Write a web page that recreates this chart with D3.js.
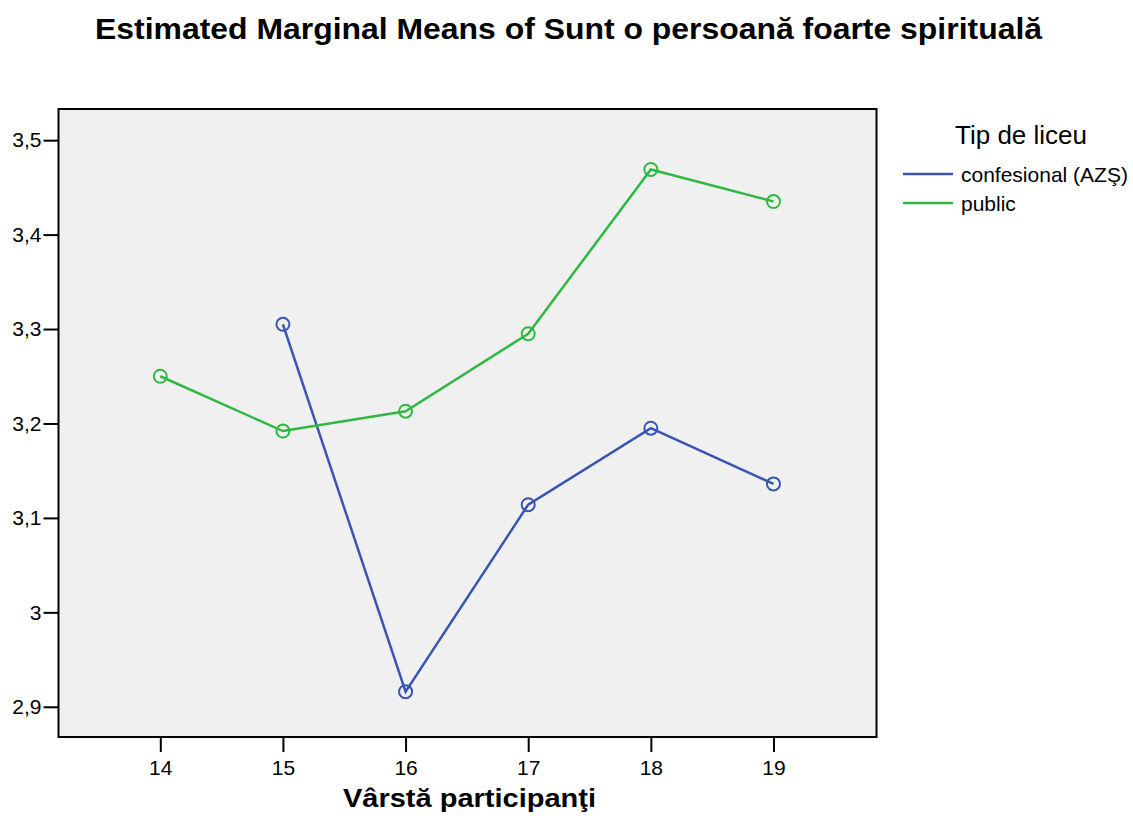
<!doctype html>
<html>
  <head>
    <meta charset="utf-8">
    <script src="https://cdn.jsdelivr.net/npm/d3@7"></script>
    <style>
      body { margin: 0; background: #ffffff; }
      svg { font-family: "Liberation Sans", Arial, sans-serif; }
    </style>
  </head>
  <body>
    <svg id="chart" width="1133" height="820"></svg>
    <script>
      // date
      var ages = [14, 15, 16, 17, 18, 19];
      var yTicks = [2.9, 3.0, 3.1, 3.2, 3.3, 3.4, 3.5];
      var seriesNames = ["confesional (AZŞ)", "public"];
      var seriesColors = ["#3a54b4", "#2fb942"];
      var confesional = [null, 3.305, 2.916, 3.114, 3.195, 3.136];
      var publicVals = [3.250, 3.192, 3.213, 3.295, 3.469, 3.435];

      var svg = d3.select("#chart");
      var plotL = 58.5, plotR = 876.5, plotT = 109, plotB = 737;

      var x = d3.scaleLinear().domain([13.17, 19.84]).range([plotL, plotR]);
      var y = d3.scaleLinear().domain([2.868, 3.533]).range([plotB, plotT]);

      // fundal zona de desen
      svg.append("rect")
        .attr("x", plotL).attr("y", plotT)
        .attr("width", plotR - plotL).attr("height", plotB - plotT)
        .attr("fill", "#f0f0f0")
        .attr("stroke", "#000").attr("stroke-width", 2);

      // axe
      var yAxis = d3.axisLeft(y).tickValues(yTicks).tickSize(15).tickPadding(2)
        .tickFormat(function(d){ return d3.format("~g")(d).replace(".", ","); });
      var gy = svg.append("g").attr("transform", "translate(" + plotL + ",0)").call(yAxis);
      gy.select(".domain").remove();
      gy.selectAll("line").attr("stroke", "#000").attr("stroke-width", 2);
      gy.selectAll("text").attr("font-size", 21).attr("fill", "#000")
        .attr("font-family", "Liberation Sans, Arial, sans-serif");

      var xAxis = d3.axisBottom(x).tickValues(ages).tickSize(15).tickPadding(8)
        .tickFormat(d3.format("d"));
      var gx = svg.append("g").attr("transform", "translate(0," + plotB + ")").call(xAxis);
      gx.select(".domain").remove();
      gx.selectAll("line").attr("stroke", "#000").attr("stroke-width", 2);
      gx.selectAll("text").attr("font-size", 21).attr("fill", "#000")
        .attr("font-family", "Liberation Sans, Arial, sans-serif");

      // linii si cercuri
      var allSeries = [confesional, publicVals];
      var line = d3.line()
        .defined(function(d){ return d.v != null; })
        .x(function(d){ return x(d.a); })
        .y(function(d){ return y(d.v); });

      allSeries.forEach(function(vals, i){
        var pts = ages.map(function(a, j){ return {a: a, v: vals[j]}; });
        svg.append("path").datum(pts)
          .attr("d", line)
          .attr("fill", "none")
          .attr("stroke", seriesColors[i])
          .attr("stroke-width", 2.5);
        svg.selectAll(".pt" + i)
          .data(pts.filter(function(d){ return d.v != null; }))
          .enter().append("circle")
          .attr("cx", function(d){ return x(d.a); })
          .attr("cy", function(d){ return y(d.v); })
          .attr("r", 6.5)
          .attr("fill", "none")
          .attr("stroke", seriesColors[i])
          .attr("stroke-width", 2);
      });

      // titlu
      svg.append("text")
        .attr("x", 95).attr("y", 38.5)
        .attr("font-size", 29).attr("font-weight", "bold")
        .attr("textLength", 947).attr("lengthAdjust", "spacingAndGlyphs")
        .text("Estimated Marginal Means of Sunt o persoană foarte spirituală");

      // eticheta axa x
      svg.append("text")
        .attr("x", 343).attr("y", 807)
        .attr("font-size", 25).attr("font-weight", "bold")
        .attr("textLength", 253).attr("lengthAdjust", "spacingAndGlyphs")
        .text("Vârstă participanţi");

      // legenda
      svg.append("text")
        .attr("x", 955).attr("y", 144)
        .attr("font-size", 26)
        .text("Tip de liceu");
      seriesNames.forEach(function(name, i){
        var ly = 174 + i * 29;
        svg.append("line")
          .attr("x1", 903).attr("x2", 953)
          .attr("y1", ly).attr("y2", ly)
          .attr("stroke", seriesColors[i]).attr("stroke-width", 2.5);
        svg.append("text")
          .attr("x", 961).attr("y", ly + 8)
          .attr("font-size", 21)
          .text(name);
      });
    </script>
  </body>
</html>
